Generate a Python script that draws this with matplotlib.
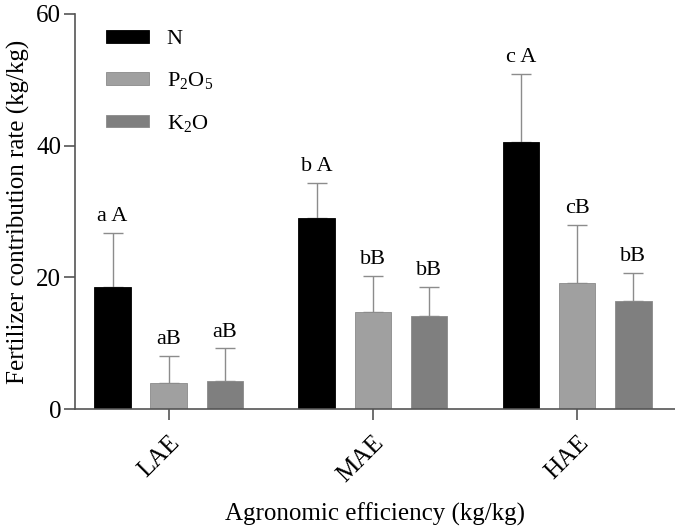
import numpy as np
import matplotlib.pyplot as plt

plt.rcParams['font.family'] = ['Liberation Serif', 'DejaVu Serif']
plt.rcParams['mathtext.fontset'] = 'custom'
plt.rcParams['mathtext.rm'] = 'Liberation Serif'

groups = ['LAE', 'MAE', 'HAE']
series = ['N', r'P$_2$O$_5$', r'K$_2$O']
colors = ['#000000', '#a0a0a0', '#7f7f7f']

means = [
    [18.5, 29.0, 40.5],   # N
    [4.0, 14.8, 19.2],    # P2O5
    [4.3, 14.2, 16.4],    # K2O
]
errs = [
    [8.2, 5.3, 10.4],
    [4.0, 5.4, 8.8],
    [4.9, 4.4, 4.2],
]
letters = [
    ['a A', 'b A', 'c A'],
    ['aB', 'bB', 'cB'],
    ['aB', 'bB', 'bB'],
]

fig = plt.figure(figsize=(6.75, 5.32), dpi=100)
ax = fig.add_axes([0.111, 0.231, 0.889, 0.743])

x = np.arange(len(groups))
width = 0.18
offset = 0.275
spine_col = '#555555'

for i in range(3):
    xs = x + (i - 1) * offset
    ax.bar(xs, means[i], width, color=colors[i], label=series[i],
           edgecolor=colors[i] if i == 0 else '#8a8a8a', linewidth=0.6, zorder=2)
    ax.errorbar(xs, means[i], yerr=[np.zeros(3), errs[i]], fmt='none',
                ecolor='#8c8c8c', elinewidth=1.0, capsize=7, capthick=1.0, zorder=1)
    for xi, m, e, t in zip(xs, means[i], errs[i], letters[i]):
        ax.annotate(t, (xi, m + e), xytext=(0, 5), textcoords='offset points',
                    ha='center', va='bottom', fontsize=16)

ax.set_ylim(0, 60)
ax.set_yticks([0, 20, 40, 60])
ax.set_xlim(-0.46, 2.48)
ax.set_xticks(x)
ax.set_xticklabels(groups, rotation=45, ha='right', rotation_mode='anchor')
ax.tick_params(axis='both', labelsize=18, color=spine_col, length=8, width=1.2)
ax.tick_params(axis='y', pad=2)
ax.tick_params(axis='x', pad=8)

for s in ['top', 'right']:
    ax.spines[s].set_visible(False)
for s in ['left', 'bottom']:
    ax.spines[s].set_color(spine_col)
    ax.spines[s].set_linewidth(1.2)

ax.set_ylabel('Fertilizer contribution rate (kg/kg)', fontsize=18, labelpad=4)
ax.set_xlabel('Agronomic efficiency (kg/kg)', fontsize=18, labelpad=12)

ax.legend(loc='upper left', bbox_to_anchor=(0.018, 1.01), frameon=False,
          fontsize=16, handlelength=1.95, handleheight=0.5, labelspacing=0.95,
          handletextpad=0.8)

fig.savefig('out.png', dpi=100)
